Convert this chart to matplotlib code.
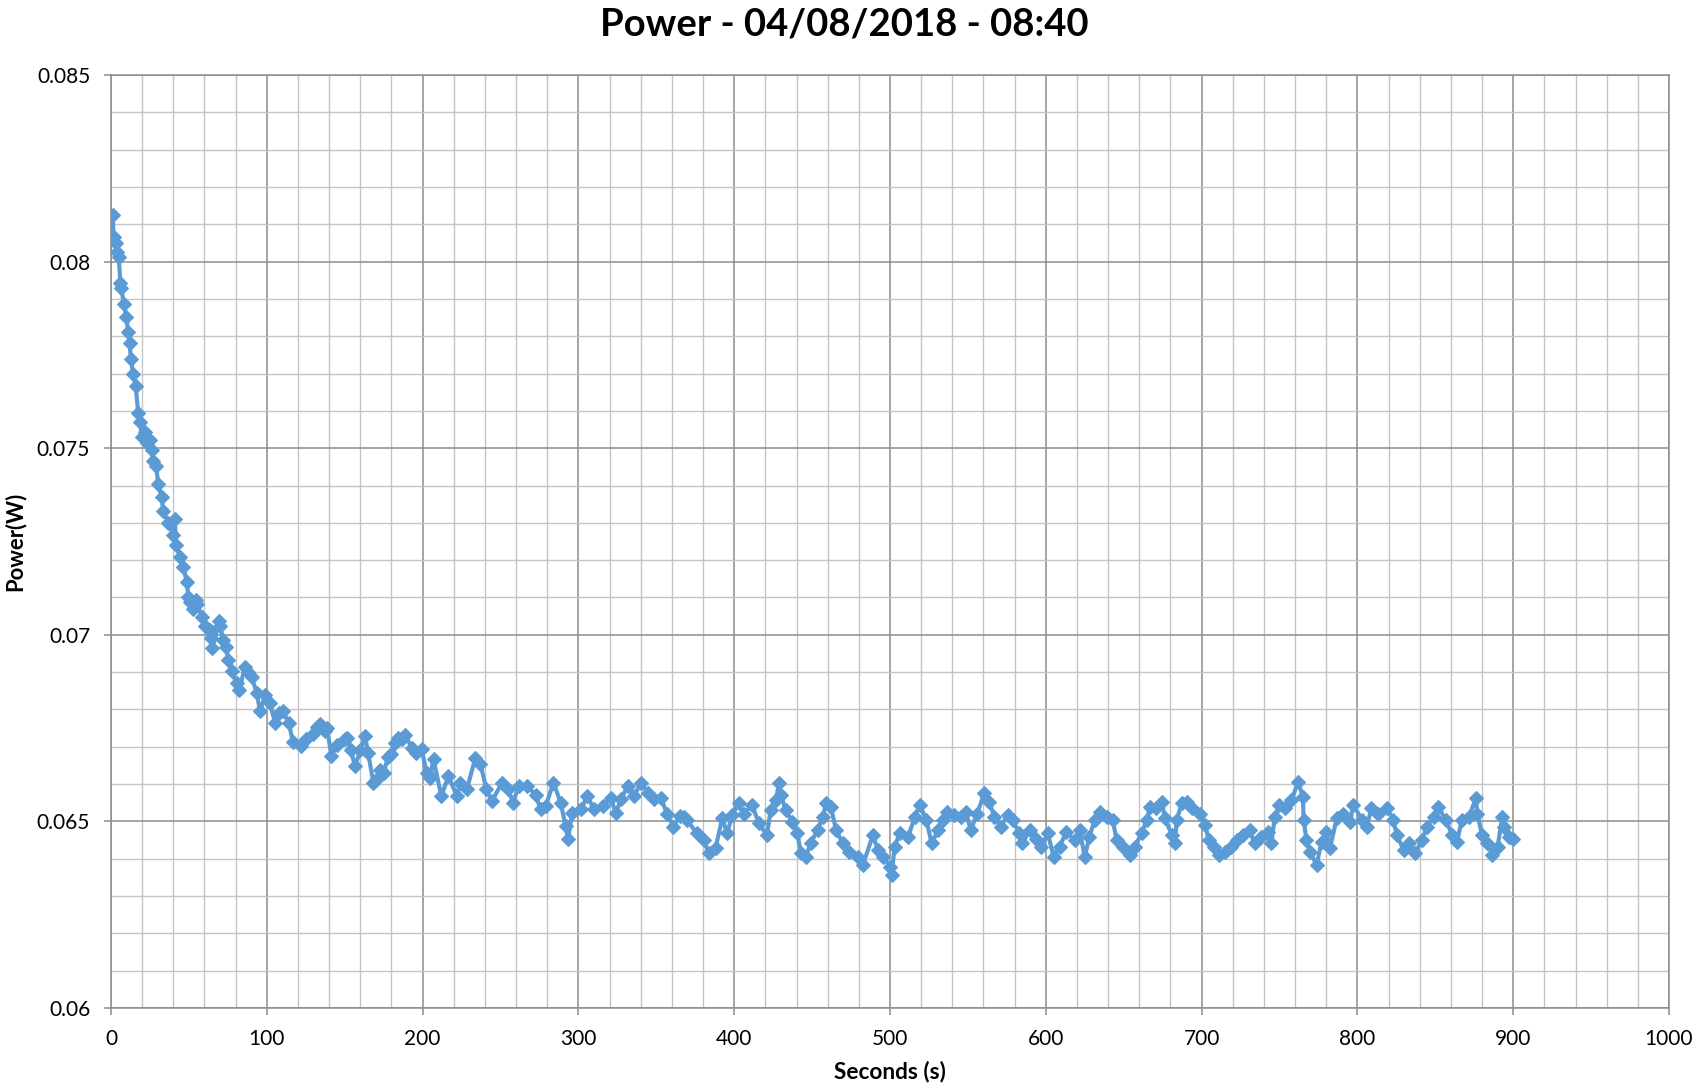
import matplotlib
matplotlib.use("Agg")
import matplotlib.pyplot as plt
from matplotlib.ticker import MultipleLocator, FuncFormatter

# ---- data ----
seconds = [1, 1.7, 3.5, 3.9, 5, 6, 6.7, 8.2, 9.9, 10.9, 12, 12.7, 14.2, 15.9, 17.4, 18.4,
           20, 21.7, 23, 25, 26, 27, 29, 30.3, 32.5, 33.5, 36.8, 40, 41, 41.7, 44.3, 46.5,
           48.6, 49.7, 50.5, 52.5, 54.8, 55.5, 58.3, 60.4, 63.4, 64.5, 65, 69.5, 70, 72,
           73.8, 75.3, 77.4, 80.6, 82.4, 86, 88, 90.3, 93.5, 95.7, 99, 102, 105.4, 108,
           110.3, 114, 116.8, 122, 125, 129.7, 132, 134, 137.2, 138.7, 141.5, 145, 150,
           151.6, 154, 156.6, 160, 163, 165, 168.4, 170, 172.7, 175, 177.8, 180, 182,
           184.5, 186.5, 189, 193, 196, 199.4, 202.6, 204.7, 207, 212, 216.6, 222, 224,
           228.4, 233.8, 237, 241, 244.5, 251, 255, 258, 261.7, 267, 272.5, 275.7, 279,
           284, 288.6, 291.8, 293.3, 296, 301.5, 305.8, 310, 315.5, 320.8, 324, 327.3,
           331.6, 336, 340, 344.5, 348.8, 353, 356.8, 361, 365, 367.5, 369.7, 376, 380.4,
           383.7, 388, 392.3, 395.5, 398.7, 403, 406, 411.5, 415.8, 421, 423.4, 426.7,
           428.8, 430, 433, 437.4, 440.6, 442.8, 446, 449, 453.5, 456.8, 459, 462, 465.4,
           469.7, 474, 479.4, 482.6, 489, 492.3, 495.5, 500, 501, 503, 506.2, 511.6, 516,
           519, 523.4, 526.7, 531, 534, 536.8, 541, 545.4, 548.6, 551.8, 556, 560.4,
           563.7, 567, 571, 575.5, 578.7, 583, 585, 589.7, 593.8, 597, 601.3, 605, 609,
           613, 618.5, 621.7, 625, 628, 631.4, 634.6, 639, 643, 645.4, 649.7, 654, 657,
           661.5, 664.7, 667, 671, 674.4, 676.5, 681, 683, 684, 687.3, 690.5, 693.8, 699,
           702.4, 704.5, 707.7, 711, 715, 719, 723, 726.5, 730.8, 734, 738.3, 742.6,
           744.7, 747, 749.7, 753.3, 757.6, 762, 765, 765.5, 767.3, 769.5, 773.8, 777,
           780, 782.4, 786.7, 791, 795.3, 797.4, 803, 806, 809, 813.5, 819, 823, 825.4,
           829.7, 833, 837, 841.5, 844.7, 849, 852, 856.6, 861, 864, 867, 871.6, 876, 877,
           880, 883.4, 886.7, 890, 893, 894, 897.4, 900]

power = [0.08125, 0.08067, 0.08051, 0.08027, 0.08013, 0.07943, 0.07928, 0.07886, 0.07851,
         0.07812, 0.07783, 0.07738, 0.07698, 0.07667, 0.07595, 0.07571, 0.07530, 0.07543,
         0.07515, 0.07521, 0.07495, 0.07467, 0.07453, 0.07403, 0.07368, 0.07332, 0.07300,
         0.07268, 0.07309, 0.07241, 0.07209, 0.07182, 0.07141, 0.07101, 0.07089, 0.07069,
         0.07094, 0.07083, 0.07047, 0.07024, 0.07013, 0.06991, 0.06964, 0.07036, 0.07024,
         0.06987, 0.06967, 0.06933, 0.06902, 0.06871, 0.06853, 0.06915, 0.06900, 0.06888,
         0.06844, 0.06795, 0.06839, 0.06817, 0.06763, 0.06790, 0.06796, 0.06764, 0.06714,
         0.06702, 0.06720, 0.06733, 0.06754, 0.06760, 0.06742, 0.06750, 0.06675, 0.06705,
         0.06720, 0.06723, 0.06690, 0.06648, 0.06690, 0.06729, 0.06684, 0.06604, 0.06610,
         0.06639, 0.06630, 0.06673, 0.06680, 0.06709, 0.06724, 0.06722, 0.06731, 0.06697,
         0.06684, 0.06693, 0.06630, 0.06617, 0.06666, 0.06568, 0.06621, 0.06568, 0.06604,
         0.06586, 0.06669, 0.06655, 0.06586, 0.06554, 0.06604, 0.06586, 0.06550, 0.06595,
         0.06595, 0.06572, 0.06532, 0.06541, 0.06604, 0.06550, 0.06487, 0.06452, 0.06523,
         0.06532, 0.06568, 0.06532, 0.06541, 0.06563, 0.06523, 0.06559, 0.06595, 0.06568,
         0.06604, 0.06577, 0.06559, 0.06563, 0.06521, 0.06486, 0.06514, 0.06512, 0.06504,
         0.06468, 0.06450, 0.06414, 0.06428, 0.06508, 0.06468, 0.06517, 0.06548, 0.06521,
         0.06544, 0.06495, 0.06463, 0.06530, 0.06557, 0.06602, 0.06571, 0.06530, 0.06499,
         0.06468, 0.06414, 0.06405, 0.06441, 0.06477, 0.06512, 0.06548, 0.06539, 0.06477,
         0.06441, 0.06419, 0.06405, 0.06383, 0.06463, 0.06423, 0.06405, 0.06379, 0.06356,
         0.06432, 0.06468, 0.06459, 0.06512, 0.06544, 0.06504, 0.06441, 0.06477, 0.06504,
         0.06526, 0.06517, 0.06512, 0.06526, 0.06477, 0.06521, 0.06575, 0.06553, 0.06512,
         0.06486, 0.06517, 0.06504, 0.06468, 0.06441, 0.06477, 0.06454, 0.06432, 0.06468,
         0.06405, 0.06432, 0.06472, 0.06450, 0.06477, 0.06405, 0.06459, 0.06504, 0.06526,
         0.06512, 0.06504, 0.06450, 0.06432, 0.06410, 0.06432, 0.06468, 0.06504, 0.06539,
         0.06535, 0.06553, 0.06508, 0.06463, 0.06441, 0.06504, 0.06548, 0.06553, 0.06535,
         0.06521, 0.06490, 0.06450, 0.06432, 0.06410, 0.06419, 0.06432, 0.06450, 0.06463,
         0.06477, 0.06441, 0.06459, 0.06472, 0.06441, 0.06512, 0.06544, 0.06535, 0.06557,
         0.06606, 0.06566, 0.06504, 0.06450, 0.06419, 0.06383, 0.06446, 0.06472, 0.06428,
         0.06508, 0.06521, 0.06499, 0.06544, 0.06504, 0.06486, 0.06535, 0.06521, 0.06535,
         0.06504, 0.06463, 0.06423, 0.06441, 0.06414, 0.06450, 0.06486, 0.06512, 0.06539,
         0.06504, 0.06463, 0.06446, 0.06504, 0.06512, 0.06562, 0.06521, 0.06463, 0.06441,
         0.06410, 0.06432, 0.06512, 0.06486, 0.06459, 0.06454]

title_text = "Power - 04/08/2018 - 08:40"
x_label = "Seconds (s)"
y_label = "Power(W)"

plt.rcParams['font.family'] = ['Lato', 'DejaVu Sans']

fig = plt.figure(figsize=(16.93, 10.91), dpi=100)
ax = fig.add_axes([111 / 1693, 1 - 1008 / 1091, (1669 - 111) / 1693, (1008 - 75) / 1091])

blue = '#5B9BD5'
ax.plot(seconds, power, color=blue, linewidth=3.0, marker='D', markersize=6.8,
        markerfacecolor=blue, markeredgecolor=blue, markeredgewidth=0.8, zorder=3)

ax.set_xlim(0, 1000)
ax.set_ylim(0.06, 0.085)
ax.xaxis.set_major_locator(MultipleLocator(100))
ax.xaxis.set_minor_locator(MultipleLocator(20))
ax.yaxis.set_major_locator(MultipleLocator(0.005))
ax.yaxis.set_minor_locator(MultipleLocator(0.001))
ax.yaxis.set_major_formatter(FuncFormatter(lambda v, p: f"{v:g}"))
ax.xaxis.set_major_formatter(FuncFormatter(lambda v, p: f"{v:g}"))

major_c = '#8C8C8C'
minor_c = '#C4C4C4'
ax.grid(which='minor', color=minor_c, linewidth=1.0, zorder=0)
ax.grid(which='major', color=major_c, linewidth=1.1, zorder=1)
ax.set_axisbelow(True)
for s in ax.spines.values():
    s.set_color(major_c)
    s.set_linewidth(1.1)

ax.tick_params(which='major', direction='out', length=5, width=1.1, color=major_c,
               labelsize=15, pad=10, labelcolor='black')
ax.tick_params(which='minor', length=0)

fig.text(844 / 1693, 1 - 24 / 1091, title_text, ha='center', va='center',
         fontsize=27.5, fontweight='bold')
fig.text(890 / 1693, 1 - 1071 / 1091, x_label, ha='center', va='center',
         fontsize=16.3, fontweight='bold')
fig.text(15 / 1693, 1 - 541 / 1091, y_label, ha='center', va='center',
         fontsize=15.8, fontweight='bold', rotation=90)

fig.savefig('out.png', dpi=100)
